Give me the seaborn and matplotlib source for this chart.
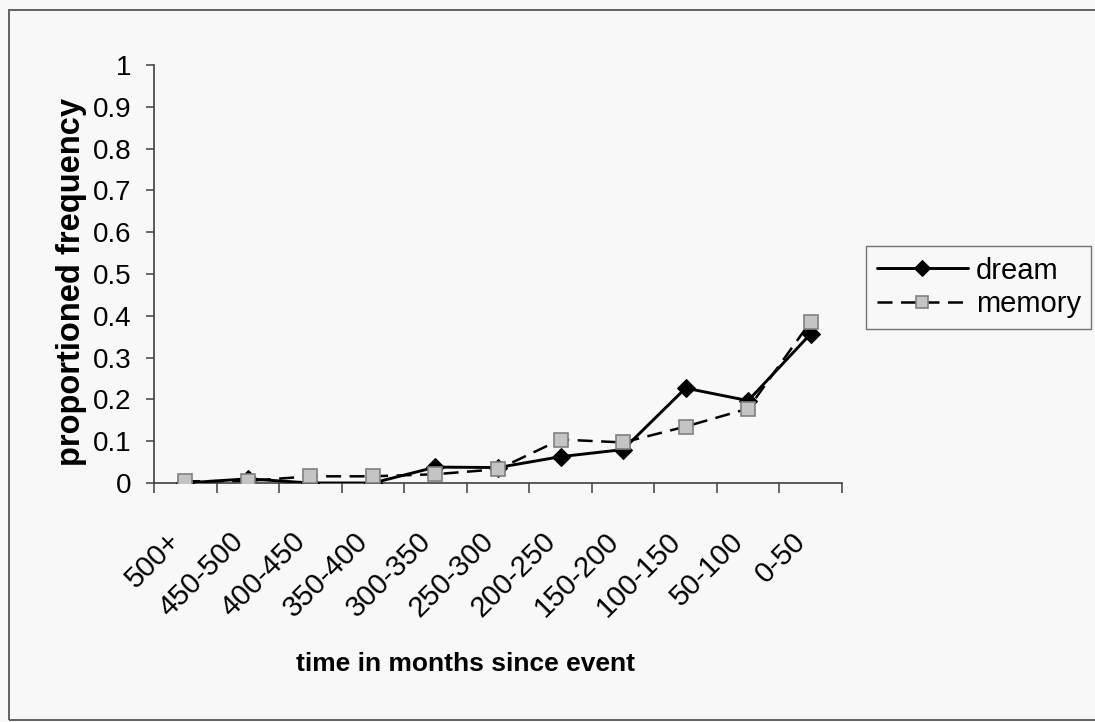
import matplotlib
matplotlib.use("Agg")
import matplotlib.pyplot as plt
import matplotlib.transforms as mtransforms
from matplotlib.patches import Rectangle
from matplotlib.ticker import FixedLocator
import seaborn as sns
import pandas as pd

# Time bins (months since the event), oldest first
periods = ['500+', '450-500', '400-450', '350-400', '300-350', '250-300',
           '200-250', '150-200', '100-150', '50-100', '0-50']
# Proportioned frequency per bin
dream = [0.0, 0.01, 0.0, 0.0, 0.038, 0.037, 0.063, 0.08, 0.227, 0.197, 0.357]
memory = [0.004, 0.005, 0.016, 0.016, 0.021, 0.033, 0.104, 0.097, 0.135, 0.178, 0.386]
y_ticks = [0, 0.1, 0.2, 0.3, 0.4, 0.5, 0.6, 0.7, 0.8, 0.9, 1]
y_ticklabels = ['0', '0.1', '0.2', '0.3', '0.4', '0.5', '0.6', '0.7', '0.8', '0.9', '1']

df = pd.DataFrame({'period': periods, 'dream': dream, 'memory': memory})

sns.set_style("white")
plt.rcParams['font.family'] = ['Liberation Sans', 'DejaVu Sans']
plt.rcParams['text.color'] = 'black'
plt.rcParams['axes.labelcolor'] = 'black'
plt.rcParams['xtick.color'] = 'black'
plt.rcParams['ytick.color'] = 'black'

bg = '#f8f8f8'
axis_col = '#404040'

fig = plt.figure(figsize=(10.95, 7.22), dpi=100, facecolor=bg)
ax = fig.add_axes([154 / 1095, 1 - 483 / 722, 688 / 1095, 418 / 722])
ax.set_facecolor('none')

sns.lineplot(data=df, x='period', y='dream', ax=ax, sort=False,
             color='black', linewidth=2.1, marker='D', markersize=9.5,
             markerfacecolor='black', markeredgecolor='black',
             label='dream', zorder=3)
sns.lineplot(data=df, x='period', y='memory', ax=ax, sort=False,
             color='black', linewidth=1.8, dashes=False,
             marker='s', markersize=9.5, markerfacecolor='#c4c4c4',
             markeredgecolor='#808080', markeredgewidth=1.2,
             label='memory', zorder=4)
ax.lines[1].set_linestyle((0, (6.0, 3.4)))

ax.set_xlim(-0.5, len(periods) - 0.5)
ax.set_ylim(0, 1)

for side in ('top', 'right'):
    ax.spines[side].set_visible(False)
for side in ('left', 'bottom'):
    ax.spines[side].set_color(axis_col)
    ax.spines[side].set_linewidth(1.2)

# y axis
ax.set_yticks(y_ticks)
ax.set_yticklabels(y_ticklabels, fontsize=20)
ax.tick_params(axis='y', direction='out', length=6, width=1.1,
               color=axis_col, labelcolor='black', pad=10, left=True)

# x axis: labels at category centres, tick marks between categories
ax.set_xticks(range(len(periods)))
ax.set_xticklabels(periods, fontsize=21, rotation=45, ha='right',
                   va='center', rotation_mode='anchor')
ax.tick_params(axis='x', which='major', length=0, pad=39, labelcolor='black')
ax.xaxis.set_minor_locator(FixedLocator([i - 0.5 for i in range(len(periods) + 1)]))
ax.tick_params(axis='x', which='minor', direction='out', length=7.5,
               width=1.1, color=axis_col, bottom=True)
shift = mtransforms.ScaledTranslation(-9 / 100, 0, fig.dpi_scale_trans)
for lbl in ax.get_xticklabels():
    lbl.set_transform(lbl.get_transform() + shift)

ax.set_xlabel('time in months since event', fontsize=19, fontweight='bold')
ax.xaxis.set_label_coords((465 - 154) / 688, -(652 - 483) / 418)
ax.set_ylabel('proportioned frequency', fontsize=23.5, fontweight='bold')
ax.yaxis.set_label_coords((87 - 154) / 688, (483 - 282) / 418)

ax.get_legend().remove()
handles, labels = ax.get_legend_handles_labels()
leg = fig.legend(handles, labels, loc='upper left',
                 bbox_to_anchor=(866 / 1095, 1 - 246 / 722),
                 frameon=True, fancybox=False, fontsize=21,
                 handlelength=3.15, handletextpad=0.25, labelspacing=0.2,
                 borderpad=0.36, borderaxespad=0, markerscale=0.85)
leg.get_frame().set_edgecolor('#505050')
leg.get_frame().set_linewidth(1.0)
leg.get_frame().set_facecolor(bg)

# outer chart border
fig.patches.append(Rectangle((9 / 1095, 2 / 722), 1.2, (720 - 10) / 722,
                             transform=fig.transFigure, fill=False,
                             edgecolor='#606060', linewidth=1.4))

fig.savefig('out.png', dpi=100, facecolor=bg)
